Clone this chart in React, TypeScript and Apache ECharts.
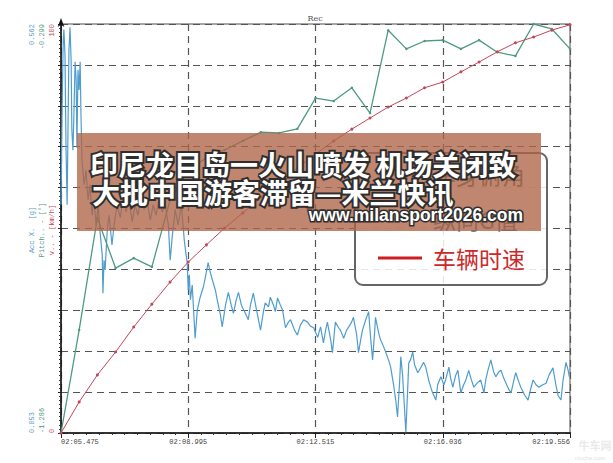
import React, { useEffect, useRef } from "react";
import * as echarts from "echarts";

const timeLabels = ["02:05.475", "02:08.995", "02:12.515", "02:16.036", "02:19.556"];
const TICK = 3.52025;
const X_MAX = 14.081;

const topLabels = ["0.562", "-0.299", "100"];
const midLabels = ["Acc X.  [g]", "Pitch.. - [°]", "v.. - [km/h]"];
const bottomLabels = ["0.053", "-1.286", "0"];

// slow channels (s from start)
const slowTimes = [0, 0.503, 1.006, 1.509, 2.012, 2.514, 3.017, 3.52, 4.023, 4.526, 5.029, 5.532, 6.035, 6.538, 7.041, 7.543, 8.046, 8.549, 9.052, 9.555, 10.058, 10.561, 11.064, 11.567, 12.069, 12.572, 13.075, 13.578, 14.081];
const speedKmh = [0, 7.6, 14.2, 19.8, 25.9, 31.5, 36.9, 41.8, 46.0, 50.1, 53.8, 57.7, 61.4, 64.8, 68.2, 71.4, 74.3, 77.0, 79.7, 81.9, 84.4, 85.8, 88.3, 90.7, 93.2, 95.4, 96.8, 98.5, 99.8];
const pitchDeg = [-1.286, -1.037, -0.767, -0.888, -0.864, -0.885, -0.724, -0.651, -0.622, -0.603, -0.581, -0.56, -0.562, -0.552, -0.478, -0.485, -0.453, -0.514, -0.314, -0.359, -0.34, -0.338, -0.359, -0.338, -0.367, -0.376, -0.299, -0.311, -0.359];

// longitudinal acceleration
const accT = [0, 0.03, 0.06, 0.08, 0.11, 0.14, 0.17, 0.19, 0.22, 0.25, 0.28, 0.3, 0.33, 0.36, 0.39, 0.42, 0.44, 0.47, 0.5, 0.53, 0.55, 0.58, 0.64, 0.69, 0.75, 0.8, 0.86, 0.91, 0.97, 1.03, 1.08, 1.14, 1.16, 1.19, 1.22, 1.28, 1.33, 1.41, 1.47, 1.55, 1.64, 1.72, 1.8, 1.88, 1.97, 2.05, 2.13, 2.22, 2.3, 2.38, 2.47, 2.55, 2.63, 2.72, 2.8, 2.88, 2.97, 3.02, 3.08, 3.16, 3.24, 3.33, 3.41, 3.46, 3.49, 3.52, 3.55, 3.58, 3.63, 3.71, 3.77, 3.85, 3.94, 4.02, 4.07, 4.13, 4.21, 4.27, 4.32, 4.41, 4.46, 4.55, 4.63, 4.71, 4.77, 4.85, 4.91, 4.99, 5.1, 5.18, 5.24, 5.32, 5.41, 5.52, 5.6, 5.65, 5.74, 5.79, 5.88, 5.93, 5.99, 6.07, 6.13, 6.21, 6.29, 6.35, 6.46, 6.54, 6.62, 6.71, 6.82, 6.9, 6.99, 7.1, 7.18, 7.26, 7.32, 7.37, 7.46, 7.51, 7.59, 7.68, 7.73, 7.82, 7.9, 7.96, 8.04, 8.09, 8.18, 8.23, 8.29, 8.34, 8.43, 8.51, 8.57, 8.62, 8.68, 8.7, 8.79, 8.84, 8.9, 8.98, 9.06, 9.12, 9.2, 9.26, 9.31, 9.37, 9.4, 9.45, 9.54, 9.59, 9.62, 9.67, 9.73, 9.78, 9.87, 9.95, 10.03, 10.09, 10.17, 10.23, 10.28, 10.37, 10.42, 10.51, 10.59, 10.64, 10.73, 10.78, 10.84, 10.92, 10.98, 11.06, 11.14, 11.2, 11.28, 11.34, 11.42, 11.53, 11.61, 11.7, 11.75, 11.81, 11.89, 11.97, 12.03, 12.11, 12.17, 12.25, 12.31, 12.39, 12.45, 12.53, 12.58, 12.67, 12.72, 12.83, 12.92, 13.0, 13.06, 13.14, 13.22, 13.33, 13.42, 13.5, 13.61, 13.69, 13.75, 13.83, 13.89, 13.97, 14.03, 14.06];
const accG = [0.337, 0.455, 0.536, 0.555, 0.523, 0.405, 0.337, 0.418, 0.53, 0.558, 0.517, 0.43, 0.405, 0.455, 0.515, 0.492, 0.408, 0.505, 0.48, 0.515, 0.455, 0.393, 0.362, 0.38, 0.343, 0.362, 0.324, 0.343, 0.312, 0.337, 0.303, 0.275, 0.227, 0.268, 0.256, 0.306, 0.324, 0.287, 0.312, 0.337, 0.321, 0.345, 0.328, 0.343, 0.316, 0.337, 0.324, 0.349, 0.331, 0.343, 0.318, 0.337, 0.324, 0.345, 0.328, 0.337, 0.312, 0.268, 0.299, 0.331, 0.312, 0.337, 0.293, 0.275, 0.266, 0.231, 0.25, 0.219, 0.237, 0.171, 0.206, 0.222, 0.235, 0.253, 0.265, 0.253, 0.24, 0.231, 0.219, 0.2, 0.185, 0.212, 0.228, 0.212, 0.202, 0.219, 0.228, 0.212, 0.202, 0.194, 0.212, 0.227, 0.206, 0.181, 0.204, 0.215, 0.21, 0.222, 0.212, 0.204, 0.221, 0.212, 0.206, 0.184, 0.191, 0.194, 0.181, 0.175, 0.187, 0.194, 0.191, 0.186, 0.184, 0.172, 0.185, 0.165, 0.181, 0.191, 0.169, 0.153, 0.191, 0.184, 0.181, 0.171, 0.181, 0.185, 0.191, 0.197, 0.175, 0.153, 0.169, 0.181, 0.194, 0.204, 0.169, 0.144, 0.181, 0.197, 0.177, 0.169, 0.163, 0.154, 0.144, 0.135, 0.113, 0.094, 0.073, 0.119, 0.148, 0.125, 0.054, 0.107, 0.14, 0.144, 0.154, 0.138, 0.128, 0.134, 0.141, 0.135, 0.119, 0.11, 0.103, 0.094, 0.113, 0.123, 0.113, 0.119, 0.135, 0.121, 0.11, 0.125, 0.131, 0.103, 0.113, 0.119, 0.131, 0.121, 0.11, 0.116, 0.119, 0.103, 0.119, 0.131, 0.144, 0.129, 0.123, 0.129, 0.131, 0.121, 0.115, 0.107, 0.103, 0.119, 0.128, 0.116, 0.11, 0.1, 0.094, 0.109, 0.119, 0.113, 0.11, 0.113, 0.115, 0.125, 0.134, 0.113, 0.1, 0.094, 0.119, 0.141, 0.131, 0.123];

const legendNames = ["车身俯角", "纵向G值", "车辆时速"];
const bannerLines = ["印尼龙目岛一火山喷发 机场关闭致", "大批中国游客滞留—米兰快讯"];
const bannerUrl = "www.milansport2026.com";

const BLUE = "#4f9dcf";
const GREEN = "#4e9a80";
const RED = "#c2475b";

export default function App() {
  const ref = useRef<HTMLDivElement>(null);
  useEffect(() => {
    if (!ref.current) return;
    const chart = echarts.init(ref.current, null, { renderer: "svg" });
    const dash = { color: "#555", width: 1.2, type: [7, 5] as any };
    const mono = "Liberation Mono";
    const labelCols = [32, 42, 52];
    const labelColors = [BLUE, GREEN, RED];
    const axisTexts: any[] = [];
    labelCols.forEach((x, i) => {
      axisTexts.push({ type: "text", x, y: 24, rotation: Math.PI / 2, z: 5, style: { text: topLabels[i], align: "right", verticalAlign: "middle", fill: labelColors[i], font: `7px ${mono}` } });
      axisTexts.push({ type: "text", x, y: 230, rotation: Math.PI / 2, z: 5, style: { text: midLabels[i], align: "center", verticalAlign: "middle", fill: labelColors[i], font: `7px ${mono}` } });
      axisTexts.push({ type: "text", x, y: 433, rotation: Math.PI / 2, z: 5, style: { text: bottomLabels[i], align: "left", verticalAlign: "middle", fill: labelColors[i], font: `7px ${mono}` } });
    });
    const legendRows = [174, 219, 258];
    const legendLineColors = [GREEN, BLUE, "#cc1f1f"];
    const legendTextColors = ["#3a6e5c", "#3b6f93", "#cc2a2a"];
    const legendEls: any[] = [];
    legendRows.forEach((y, i) => {
      legendEls.push({ type: "line", z: 11, shape: { x1: 378, y1: y, x2: 422, y2: y }, style: { stroke: legendLineColors[i], lineWidth: 3 } });
      legendEls.push({ type: "text", x: 433, y, z: 11, style: { text: legendNames[i], fill: legendTextColors[i], font: `23px "Noto Sans CJK SC"`, lineHeight: 23, verticalAlign: "middle", align: "left" } });
    });
    const outline = { stroke: "#2e2e2e", lineWidth: 4, strokeFirst: true, lineHeight: 26 } as any;

    chart.setOption({
      animation: false,
      backgroundColor: "#fff",
      grid: { left: 61, right: 43, top: 24, bottom: 30, show: true, borderColor: "#8a8a8a", borderWidth: 1.5, backgroundColor: "transparent" },
      xAxis: {
        type: "value", min: 0, max: X_MAX, interval: TICK,
        axisLine: { lineStyle: { color: "#111", width: 1.5 } },
        axisTick: { show: true, length: 5, lineStyle: { color: "#222" } },
        minorTick: { show: true, splitNumber: 10, length: 2, lineStyle: { color: "#333" } },
        axisLabel: {
          formatter: (v: number) => timeLabels[Math.round(v / TICK)] ?? "",
          fontFamily: mono, fontSize: 7, color: "#444", margin: 5,
          alignMinLabel: "left", alignMaxLabel: "right",
        },
        splitLine: { show: true, lineStyle: dash },
      },
      yAxis: [
        {
          type: "value", min: 0, max: 10, interval: 1, position: "left",
          axisLine: { show: true, lineStyle: { color: "#111", width: 1.5 }, symbol: ["none", "arrow"], symbolSize: [5, 9], symbolOffset: [0, 6] },
          axisTick: { show: true, length: 3, lineStyle: { color: "#222" } },
          minorTick: { show: true, splitNumber: 10, length: 2, lineStyle: { color: "#333" } },
          axisLabel: { show: false },
          splitLine: { show: true, lineStyle: dash },
        },
        { type: "value", min: 0.053, max: 0.562, show: false, splitLine: { show: false } },
        { type: "value", min: -1.286, max: -0.299, show: false, splitLine: { show: false } },
        { type: "value", min: 0, max: 100, show: false, splitLine: { show: false } },
      ],
      series: [
        {
          type: "line", yAxisIndex: 1, data: accT.map((t, i) => [t, accG[i]]),
          showSymbol: false, lineStyle: { color: BLUE, width: 1.2 }, itemStyle: { color: BLUE }, z: 3,
        },
        {
          type: "line", yAxisIndex: 2, data: slowTimes.map((t, i) => [t, pitchDeg[i]]),
          symbol: "circle", symbolSize: 2.5, lineStyle: { color: GREEN, width: 1.3 }, itemStyle: { color: GREEN }, z: 4,
        },
        {
          type: "line", yAxisIndex: 3, data: slowTimes.map((t, i) => [t, speedKmh[i]]),
          symbol: "circle", symbolSize: 3, lineStyle: { color: RED, width: 1 }, itemStyle: { color: RED }, z: 5,
        },
      ],
      graphic: [
        { type: "text", x: 315, y: 18, z: 5, style: { text: "Rec", align: "center", verticalAlign: "middle", fill: "#555", font: `8px "DejaVu Serif"` } },
        ...axisTexts,
        { type: "rect", z: 10, shape: { x: 355, y: 153, width: 192, height: 132, r: 8 }, style: { fill: "rgba(255,255,255,0.85)", stroke: "#666", lineWidth: 2 } },
        ...legendEls,
        { type: "rect", z: 20, shape: { x: 77, y: 133, width: 464, height: 98 }, style: { fill: "rgba(175,100,70,0.78)" } },
        { type: "text", x: 90, y: 164, z: 21, style: { text: bannerLines[0], fill: "#fff", font: `bold 28px "Noto Sans CJK SC"`, align: "left", verticalAlign: "middle", ...outline } },
        { type: "text", x: 92, y: 192, z: 21, style: { text: bannerLines[1], fill: "#fff", font: `bold 28px "Noto Sans CJK SC"`, align: "left", verticalAlign: "middle", ...outline } },
        { type: "text", x: 523, y: 215, z: 21, style: { text: bannerUrl, fill: "#fff", font: `bold 17.5px "Liberation Sans"`, align: "right", verticalAlign: "middle", stroke: "#2e2e2e", lineWidth: 3, strokeFirst: true, lineHeight: 18 } },
        { type: "text", x: 595, y: 445, z: 2, style: { text: "牛车网", fill: "rgba(200,200,200,0.4)", font: `bold 11px "Noto Sans CJK SC"`, align: "center", verticalAlign: "middle" } },
        { type: "text", x: 590, y: 458, z: 2, style: { text: "niuche.com", fill: "rgba(190,190,190,0.5)", font: `6px "Liberation Sans"`, align: "center", verticalAlign: "middle" } },
      ],
    });
    return () => chart.dispose();
  }, []);
  return <div ref={ref} style={{ position: "fixed", left: 0, top: 0, width: 613, height: 463, background: "#fff" }} />;
}
